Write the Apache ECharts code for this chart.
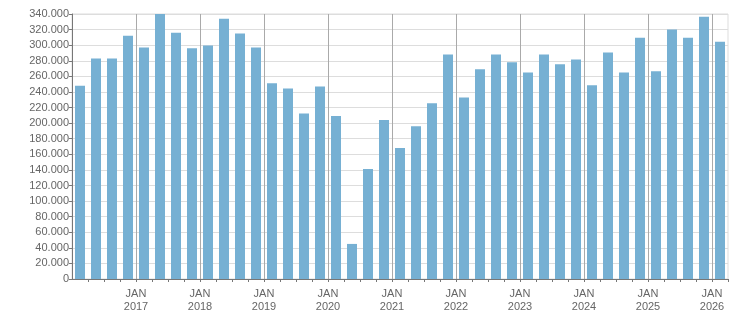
<!DOCTYPE html>
<html>
<head>
<meta charset="utf-8">
<style>
    html, body { margin: 0; padding: 0; background: #fff; }
    #chart { width: 751px; height: 313px; }
</style>
<script src="https://cdn.jsdelivr.net/npm/echarts@6/dist/echarts.min.js"></script>
</head>
<body>
<div id="chart"></div>
<script>
    // quarterly bars, 2016 Q1 .. 2026 Q1
    var years = [2016, 2017, 2018, 2019, 2020, 2021, 2022, 2023, 2024, 2025, 2026];
    var quarterNames = ['Q1', 'Q2', 'Q3', 'Q4'];
    var values = [
        248000, 283000, 283000, 312000, 297000, 340000, 316000, 296000, 299500, 334000,
        315000, 297000, 251000, 244500, 212500, 247000, 209000, 45000, 141000, 204000,
        168000, 196000, 225500, 288000, 233000, 269000, 288000, 278000, 265000, 288000,
        275500, 281500, 248500, 290500, 265000, 309500, 266500, 320000, 309500, 336500,
        304500
    ];
    var yTicks = { min: 0, max: 340000, step: 20000 };

    var categories = [];
    years.forEach(function (y) {
        quarterNames.forEach(function (q) { categories.push(y + ' ' + q); });
    });
    categories = categories.slice(0, values.length);

    // boundary points between bars; JAN label where a new year starts
    var boundaries = [];
    for (var k = 0; k <= categories.length; k++) {
        var c = categories[k];
        if (k > 0 && c && c.indexOf('Q1') > 0) {
            boundaries.push('JAN\n' + c.split(' ')[0]);
        } else {
            boundaries.push('');
        }
    }

    var textColor = '#666';
    var font = 'Liberation Sans';
    var chart = echarts.init(document.getElementById('chart'));
    var option = {
        animation: false,
        grid: {
            left: 72, right: 23, top: 14, bottom: 33,
            show: true, borderColor: '#ddd', borderWidth: 1, backgroundColor: 'transparent'
        },
        xAxis: [
            {
                type: 'category',
                data: categories,
                position: 'bottom',
                axisLine: { lineStyle: { color: '#777' } },
                axisTick: { show: false },
                axisLabel: { show: false },
                splitLine: { show: false }
            },
            {
                type: 'category',
                data: boundaries,
                boundaryGap: false,
                position: 'bottom',
                axisLine: { show: false },
                axisTick: {
                    show: true, length: 3, lineStyle: { color: '#777' },
                    interval: function (i) { return i > 0; }
                },
                axisLabel: {
                    interval: 0, color: textColor, fontFamily: font,
                    fontSize: 11, lineHeight: 13, margin: 8
                },
                splitLine: {
                    show: true,
                    interval: function (i, v) { return v !== ''; },
                    lineStyle: { color: '#aaa', width: 1 }
                }
            }
        ],
        yAxis: {
            type: 'value',
            min: yTicks.min,
            max: yTicks.max,
            interval: yTicks.step,
            axisLine: { show: true, lineStyle: { color: '#777' } },
            axisTick: { show: true, length: 3, lineStyle: { color: '#777' } },
            axisLabel: {
                color: textColor, fontFamily: font, fontSize: 11, margin: 3,
                formatter: function (v) { return v === 0 ? '0' : (v / 1000).toFixed(3); }
            },
            splitLine: { lineStyle: { color: '#ddd' } }
        },
        series: [{
            type: 'bar',
            xAxisIndex: 0,
            data: values,
            barWidth: 10,
            itemStyle: { color: '#76b0d3' }
        }]
    };
    chart.setOption(option);
</script>
</body>
</html>
